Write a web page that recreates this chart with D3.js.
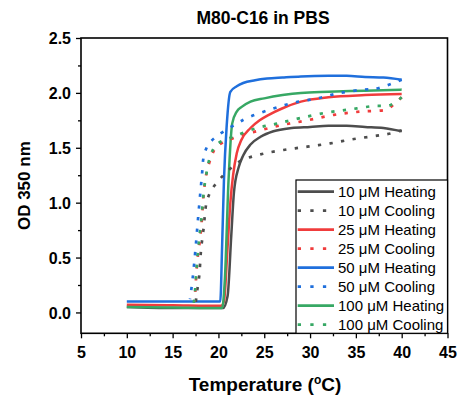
<!DOCTYPE html>
<html><head><meta charset="utf-8">
<script src="https://cdn.jsdelivr.net/npm/d3@7"></script>
<style>body{margin:0;background:#fff;}svg{display:block;font-family:"Liberation Sans",Arial,sans-serif;}</style>
</head><body><svg id="c" width="459" height="401"></svg>
<script>
const title = "M80-C16 in PBS";
const xTicks = [5,10,15,20,25,30,35,40,45];
const yTicks = [0.0,0.5,1.0,1.5,2.0,2.5];
const seriesNames = ["10 μM Heating","10 μM Cooling","25 μM Heating","25 μM Cooling","50 μM Heating","50 μM Cooling","100 μM Heating","100 μM Cooling"];
const seriesColors = ["#4d4d4d","#4d4d4d","#f03c3c","#f03c3c","#1f6fdc","#1f6fdc","#37a864","#37a864"];
const seriesDotted = [false,true,false,true,false,true,false,true];

const heat10 = [[10,0.05],[15,0.04],[20.5,0.04],[21,0.15],[21.4,0.7],[21.7,1.1],[22.2,1.32],[22.7,1.43],[23.5,1.53],[24.6,1.6],[26,1.65],[28,1.68],[30,1.69],[32,1.70],[34,1.70],[36,1.69],[38,1.68],[40,1.65]];
const cool10 = [[40,1.66],[38.8,1.63],[37.3,1.61],[34.8,1.58],[32.2,1.54],[29.7,1.51],[27.1,1.48],[24.6,1.44],[22.4,1.38],[20.9,1.28],[20.0,1.2],[19.2,1.11],[18.7,1.0],[18.4,0.78],[18.1,0.57],[17.9,0.33],[17.6,0.15],[17.5,0.06]];
const heat25 = [[10,0.07],[15,0.065],[20.3,0.06],[20.6,0.1],[21.0,0.6],[21.3,1.0],[21.6,1.25],[22.0,1.45],[22.5,1.57],[23.5,1.68],[24.5,1.75],[25.5,1.8],[27,1.86],[29,1.92],[32,1.96],[36,1.98],[40,1.99]];
const cool25 = [[40,1.96],[39.2,1.9],[38.4,1.85],[35.5,1.83],[32.6,1.8],[29.7,1.75],[27.1,1.71],[24.6,1.66],[22,1.6],[19.8,1.51],[19.2,1.41],[18.7,1.27],[18.4,1.09],[18.1,0.75],[17.7,0.47],[17.5,0.23],[17.4,0.1]];
const heat50 = [[10,0.1],[15,0.1],[20.2,0.1],[20.4,0.6],[20.6,1.2],[20.9,1.7],[21.3,2.01],[22,2.06],[22.7,2.09],[24,2.115],[25.3,2.13],[27,2.14],[29,2.15],[32,2.155],[34,2.155],[36,2.145],[38,2.14],[40,2.12]];
const cool50 = [[40,2.12],[37.3,2.04],[35.9,2.03],[33.3,2.0],[30.8,1.95],[28.2,1.91],[25.7,1.85],[23.1,1.77],[22,1.72],[19.9,1.61],[18.9,1.53],[18.4,1.42],[18.2,1.25],[17.8,0.88],[17.5,0.58],[17.2,0.32],[16.9,0.12]];
const heat100 = [[10,0.05],[15,0.045],[20.4,0.04],[20.7,0.3],[21.1,1.2],[21.5,1.72],[22,1.83],[22.5,1.87],[23.5,1.92],[25,1.95],[27,1.98],[29,2.0],[32,2.01],[36,2.02],[40,2.03]];
const cool100 = [[40,1.96],[38.8,1.89],[36.9,1.88],[34.4,1.85],[31.8,1.82],[28.9,1.77],[26.4,1.72],[24.2,1.68],[21.6,1.6],[19.8,1.53],[19.1,1.42],[18.7,1.27],[18.4,1.1],[18.1,0.82],[17.8,0.6],[17.6,0.38],[17.4,0.15],[17.3,0.08]];
const seriesData = [heat10,cool10,heat25,cool25,heat50,cool50,heat100,cool100];

const svg = d3.select("#c");
const L=81, R=447.5, T=38, B=333.3;
const x = d3.scaleLinear().domain([5,45]).range([L,R]);
const y = d3.scaleLinear().domain([-0.19,2.5]).range([B,T]);

// plot lines
const line = d3.line().x(d=>x(d[0])).y(d=>y(d[1])).curve(d3.curveMonotoneX);
const lineC = d3.line().x(d=>x(d[0])).y(d=>y(d[1])).curve(d3.curveCatmullRom);
const order = [0,2,6,4,1,3,7,5];
order.forEach(i=>{
  svg.append("path").datum(seriesData[i])
    .attr("d", seriesDotted[i] ? lineC : line)
    .attr("fill","none").attr("stroke",seriesColors[i])
    .attr("stroke-width", seriesDotted[i]?2.7:2.5)
    .attr("stroke-dasharray", seriesDotted[i]?"3.3,8.4":null)
    .attr("stroke-linejoin","round");
});

// frame
svg.append("rect").attr("x",L).attr("y",T).attr("width",R-L).attr("height",B-T)
  .attr("fill","none").attr("stroke","#000").attr("stroke-width",1.6);

// axes
const xAx = svg.append("g").attr("transform",`translate(0,${B})`)
  .call(d3.axisBottom(x).tickValues(xTicks).tickFormat(d3.format("d")).tickSize(5));
const xMinor = svg.append("g").attr("transform",`translate(0,${B})`)
  .call(d3.axisBottom(x).tickValues(d3.range(7.5,45,5)).tickFormat("").tickSize(3));
const yAx = svg.append("g").attr("transform",`translate(${L},0)`)
  .call(d3.axisLeft(y).tickValues(yTicks).tickFormat(d3.format(".1f")).tickSize(5).tickPadding(5));
const yMinor = svg.append("g").attr("transform",`translate(${L},0)`)
  .call(d3.axisLeft(y).tickValues([0.25,0.75,1.25,1.75,2.25]).tickFormat("").tickSize(3));
[xAx,xMinor,yAx,yMinor].forEach(g=>{
  g.select(".domain").remove();
  g.selectAll("line").attr("stroke","#000").attr("stroke-width",1.3);
  g.selectAll("text").attr("fill","#000").style("font-size","16px").style("font-weight","bold")
   .style("font-family","'Liberation Sans',Arial,sans-serif");
});
xAx.selectAll("text").attr("y",24.5).attr("dy",0);
yAx.selectAll("text").attr("dy","0.36em");

// title and labels
svg.append("text").attr("x",263).attr("y",23.5).attr("text-anchor","middle")
  .style("font-size","17.5px").style("font-weight","bold").text(title);
svg.append("text").attr("transform",`translate(30,${(T+B)/2}) rotate(-90)`).attr("text-anchor","middle")
  .style("font-size","17px").style("font-weight","bold").text("OD 350 nm");
const xl = svg.append("text").attr("x",265).attr("y",391).attr("text-anchor","middle")
  .style("font-size","19px").style("font-weight","bold");
xl.append("tspan").text("Temperature (");
xl.append("tspan").attr("dy",-7).style("font-size","12px").text("o");
xl.append("tspan").attr("dy",7).text("C)");

// legend
const lg = svg.append("g");
lg.append("rect").attr("x",296).attr("y",180).attr("width",R-296).attr("height",B-180)
  .attr("fill","#fff").attr("stroke","#000").attr("stroke-width",1.2);
seriesNames.forEach((n,i)=>{
  const yy = 191.7 + i*19.0;
  lg.append("line").attr("x1",297.7).attr("x2",334).attr("y1",yy).attr("y2",yy)
    .attr("stroke",seriesColors[i]).attr("stroke-width",2.7)
    .attr("stroke-dasharray",seriesDotted[i]?"3.3,9.3":null);
  lg.append("text").attr("x",338).attr("y",yy).attr("dy","0.36em")
    .style("font-size","15px").attr("fill","#000").text(n);
});
</script></body></html>
